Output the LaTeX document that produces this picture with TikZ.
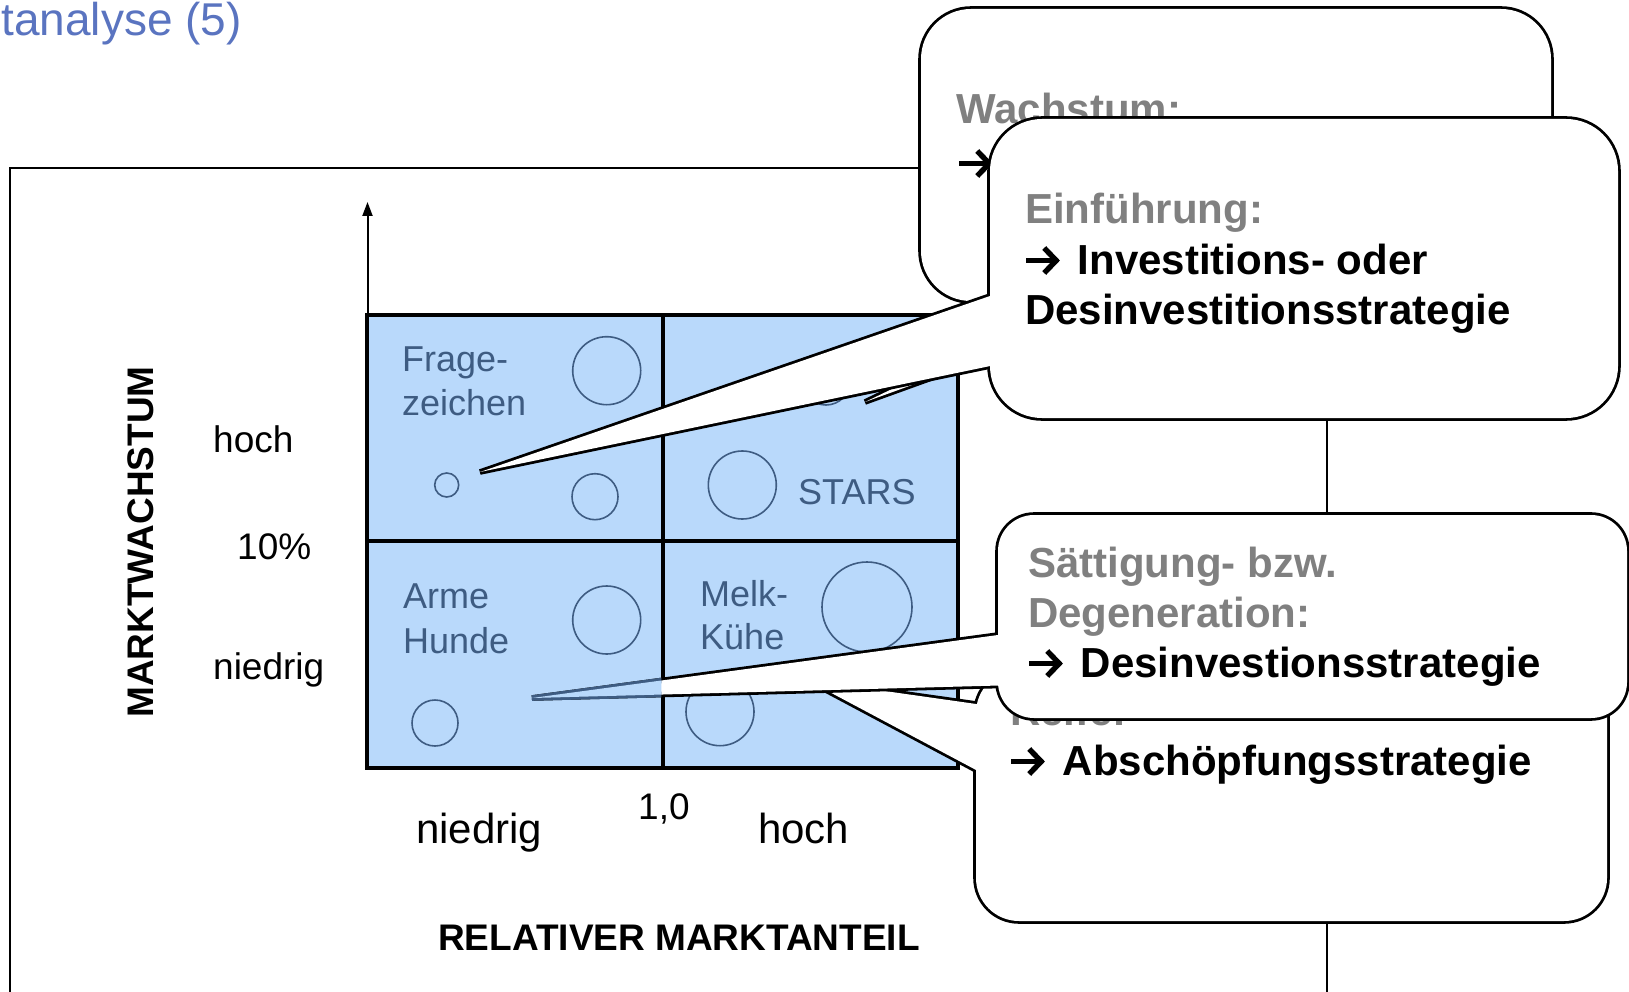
\documentclass[tikz,border=0pt]{standalone}
\usepackage{fontspec}
\setmainfont{Liberation Sans}
\usetikzlibrary{arrows.meta}

\definecolor{titleblue}{RGB}{90,116,192}
\definecolor{cellblue}{RGB}{185,217,251}
\definecolor{inkblue}{RGB}{62,92,130}
\definecolor{headgray}{RGB}{128,128,128}

% heavy arrow used at the start of a strategy line
\newcommand{\heavyarrow}{\tikz[x=1pt,y=1pt,baseline=0pt,line width=5.4pt]{%
  \useasboundingbox (0,0) rectangle (41,27);
  \draw (1,13.5) -- (31,13.5);
  \draw[line join=miter] (19,26) -- (31,13.5) -- (19,1);}}

\tikzset{
  lbl/.style={inner sep=0pt, anchor=base west},
  celltext/.style={lbl, text=inkblue, font=\fontsize{36pt}{44pt}\selectfont},
  axistext/.style={lbl, font=\fontsize{37pt}{44pt}\selectfont},
  xaxistext/.style={lbl, font=\fontsize{42pt}{48pt}\selectfont},
  headtext/.style={lbl, text=headgray, font=\fontsize{42pt}{50pt}\selectfont\bfseries},
  bodytext/.style={lbl, font=\fontsize{42pt}{50pt}\selectfont\bfseries},
  bubble/.style={draw=inkblue, line width=1.6pt},
  gridline/.style={line width=3.4pt},
  frameline/.style={line width=2pt},
  % outline drawn double width, inner half hidden by the white fill afterwards
  calloutline/.style={line width=5.6pt, line join=bevel},
}

\begin{document}
\begin{tikzpicture}[x=1pt, y=-1pt]
\useasboundingbox (0,0) rectangle (1629,992);

% heading
\node[lbl, anchor=base east, text=titleblue, font=\fontsize{46pt}{50pt}\selectfont] (title) at (242,36) {tanalyse (5)};

% surrounding frame and column rule
\draw[frameline] (10,992) -- (10,168) -- (1600,168);
\draw[frameline] (1327,168) -- (1327,992);

% portfolio matrix cells
\fill[cellblue] (367,315) rectangle (958,768);

% business units
\draw[bubble] (606.7,370.7) circle[radius=34pt];
\draw[bubble] (446.7,485) circle[radius=12pt];
\draw[bubble] (595,496.7) circle[radius=23pt];
\draw[bubble] (826,381) circle[radius=24pt];
\draw[bubble] (742.3,485) circle[radius=34pt];
\draw[bubble] (606.7,620) circle[radius=34pt];
\draw[bubble] (435,723) circle[radius=23pt];
\draw[bubble] (867,607) circle[radius=45pt];
\draw[bubble] (720,711.7) circle[radius=34pt];

% cell names
\node[celltext] (fz1) at (402,371) {Frage-};
\node[celltext] (fz2) at (402,415) {zeichen};
\node[celltext] (stars) at (798,504) {STARS};
\node[celltext] (ah1) at (403,608) {Arme};
\node[celltext] (ah2) at (403,653) {Hunde};
\node[celltext] (mk1) at (700,606) {Melk-};
\node[celltext] (mk2) at (700,649) {Kühe};

% matrix grid
\draw[gridline] (367,315) rectangle (958,768);
\draw[gridline] (663,315) -- (663,768);
\draw[gridline] (367,541) -- (958,541);

% vertical axis
\coordinate (axtop) at (367.5,202);
\coordinate (axbot) at (367.5,315);
\draw[frameline, -{Triangle[length=14pt,width=10pt]}] (axbot) -- (axtop);

% axis labels
\node[axistext] (yhi) at (213,452) {hoch};
\node[axistext] (ymid) at (237,559) {10\%};
\node[axistext] (ylo) at (213,679) {niedrig};
\node[inner sep=0pt, rotate=90, anchor=base, font=\fontsize{37pt}{44pt}\selectfont\bfseries] (ylab) at (153,542) {MARKTWACHSTUM};
\node[xaxistext] (xlo) at (416,843) {niedrig};
\node[axistext] (xmid) at (638,819.5) {1,0};
\node[xaxistext] (xhi) at (758,843) {hoch};
\node[lbl, font=\fontsize{37pt}{44pt}\selectfont\bfseries] (xlab) at (438,950) {RELATIVER MARKTANTEIL};

% callout: Wachstum (behind)
\coordinate (wT) at (865,402);
\coordinate (wA) at (1108,285);
\coordinate (wB) at (1189,285);
\draw[calloutline, rounded corners=50pt] (921,9) rectangle (1551,301);
\draw[calloutline] (wA) -- (wT) -- (wB);
\fill[white, rounded corners=50pt] (921,9) rectangle (1551,301);
\fill[white] (wA) -- (wT) -- (wB) -- cycle;
\node[headtext] (wh) at (956,124) {Wachstum:};
\node[bodytext] (wb) at (958,177) {\heavyarrow};

% callout: Einführung
\coordinate (eT) at (480,472);
\coordinate (eA) at (1010,289.1);
\coordinate (eB) at (1010,361.9);
\draw[calloutline, rounded corners=52pt] (990,119) rectangle (1618,418);
\draw[calloutline] (eA) -- (eT) -- (eB);
\fill[white, rounded corners=52pt] (990,119) rectangle (1618,418);
\fill[white] (eA) -- (eT) -- (eB) -- cycle;
\node[headtext] (eh) at (1025,224) {Einführung:};
\node[bodytext] (eb1) at (1025,274) {\heavyarrow\ Investitions- oder};
\node[bodytext] (eb2) at (1025,324) {Desinvestitionsstrategie};

% callout: Reife (behind)
\coordinate (rT) at (807,680);
\coordinate (rA) at (996,706.8);
\coordinate (rB) at (996,780.6);
\draw[calloutline, rounded corners=43pt] (976,670) rectangle (1607,921);
\draw[calloutline] (rA) -- (rT) -- (rB);
\fill[white, rounded corners=43pt] (976,670) rectangle (1607,921);
\fill[white] (rA) -- (rT) -- (rB) -- cycle;
\node[headtext] (rh) at (1010,725) {Reife:};
\node[bodytext] (rb) at (1010,775) {\heavyarrow\ Abschöpfungsstrategie};

% callout: Sättigung / Degeneration
\coordinate (sT) at (532,698);
\coordinate (sA) at (1018,632.3);
\coordinate (sB) at (1018,685);
\draw[calloutline, rounded corners=36pt] (998,515) rectangle (1627,718);
\draw[calloutline] (sA) -- (sT) -- (sB);
\fill[white, rounded corners=36pt] (998,515) rectangle (1627,718);
\fill[white] (sA) -- (sT) -- (sB) -- cycle;
\node[headtext] (sh1) at (1028,577) {Sättigung- bzw.};
\node[headtext] (sh2) at (1028,627) {Degeneration:};
\node[bodytext] (sb) at (1028,677) {\heavyarrow\ Desinvestionsstrategie};

% the lower-left cell lies over the Sättigung pointer
\begin{scope}
  \clip (368.7,542.7) rectangle (661.3,766.3);
  \draw[calloutline, draw=inkblue] (sA) -- (sT) -- (sB);
  \fill[cellblue] (sA) -- (sT) -- (sB) -- cycle;
\end{scope}
\end{tikzpicture}
\end{document}
